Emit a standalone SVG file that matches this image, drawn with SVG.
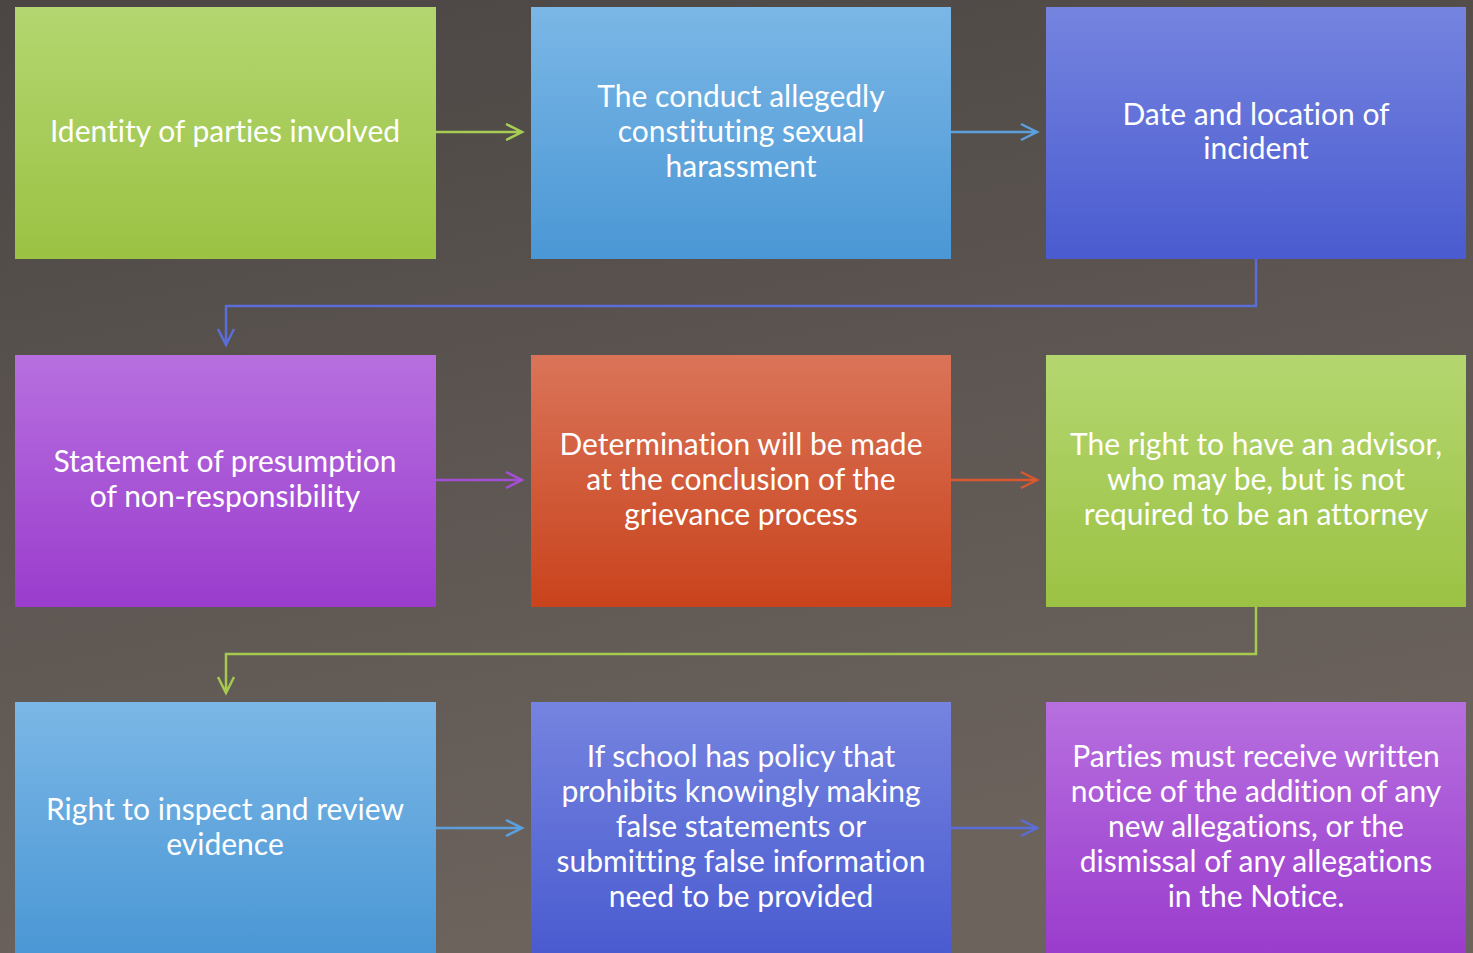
<svg xmlns="http://www.w3.org/2000/svg" width="1473" height="953" viewBox="0 0 1473 953">
<defs>
<linearGradient id="bg" x1="0" y1="0" x2="0.3" y2="1"><stop offset="0" stop-color="#4b4644"/><stop offset="1" stop-color="#6c635d"/></linearGradient>
<linearGradient id="gGreen" x1="0" y1="0" x2="0" y2="1"><stop offset="0" stop-color="#b4d670"/><stop offset="1" stop-color="#9bc243"/></linearGradient>
<linearGradient id="gBlue" x1="0" y1="0" x2="0" y2="1"><stop offset="0" stop-color="#7bb7e6"/><stop offset="1" stop-color="#4a97d5"/></linearGradient>
<linearGradient id="gIndigo" x1="0" y1="0" x2="0" y2="1"><stop offset="0" stop-color="#7584df"/><stop offset="1" stop-color="#4a5bd0"/></linearGradient>
<linearGradient id="gPurple" x1="0" y1="0" x2="0" y2="1"><stop offset="0" stop-color="#b76fdf"/><stop offset="1" stop-color="#9a3ccd"/></linearGradient>
<linearGradient id="gOrange" x1="0" y1="0" x2="0" y2="1"><stop offset="0" stop-color="#da7459"/><stop offset="1" stop-color="#c9431c"/></linearGradient>
<style>
.t{font-family:Lato,"Liberation Sans",sans-serif;font-size:30px;fill:#ffffff;text-anchor:middle;dominant-baseline:central;font-variant-ligatures:none}
.c{fill:none;stroke-width:2.5;stroke-linecap:butt;stroke-linejoin:miter}
</style>
</defs>
<rect width="1473" height="953" fill="url(#bg)"/>
<g id="connectors">
<path class="c" stroke="#a6cc55" d="M436 132H522M506 124L522 132L506 140"/>
<path class="c" stroke="#5ba0dc" d="M951 132H1037M1021 124L1037 132L1021 140"/>
<path class="c" stroke="#5b6ed8" d="M1256 259V306H226V345M218 329L226 345L234 329"/>
<path class="c" stroke="#a34fd3" d="M436 480H522M506 472L522 480L506 488"/>
<path class="c" stroke="#d9582f" d="M951 480H1037M1021 472L1037 480L1021 488"/>
<path class="c" stroke="#a6c94f" d="M1256 607V654H226V693M218 677L226 693L234 677"/>
<path class="c" stroke="#5ba0dc" d="M436 828H522M506 820L522 828L506 836"/>
<path class="c" stroke="#5b6ed8" d="M951 828H1037M1021 820L1037 828L1021 836"/>
</g>
<g id="n1"><rect x="15" y="7" width="421" height="252" fill="url(#gGreen)"/><text class="t" x="225" y="130">Identity of parties involved</text></g>
<g id="n2"><rect x="531" y="7" width="420" height="252" fill="url(#gBlue)"/><text class="t" x="741" y="95">The conduct allegedly</text><text class="t" x="741" y="130">constituting sexual</text><text class="t" x="741" y="165">harassment</text></g>
<g id="n3"><rect x="1046" y="7" width="420" height="252" fill="url(#gIndigo)"/><text class="t" x="1256" y="113">Date and location of</text><text class="t" x="1256" y="147">incident</text></g>
<g id="n4"><rect x="15" y="355" width="421" height="252" fill="url(#gPurple)"/><text class="t" x="225" y="460">Statement of presumption</text><text class="t" x="225" y="495">of non-responsibility</text></g>
<g id="n5"><rect x="531" y="355" width="420" height="252" fill="url(#gOrange)"/><text class="t" x="741" y="443">Determination will be made</text><text class="t" x="741" y="478">at the conclusion of the</text><text class="t" x="741" y="513">grievance process</text></g>
<g id="n6"><rect x="1046" y="355" width="420" height="252" fill="url(#gGreen)"/><text class="t" x="1256" y="443">The right to have an advisor,</text><text class="t" x="1256" y="478">who may be, but is not</text><text class="t" x="1256" y="513">required to be an attorney</text></g>
<g id="n7"><rect x="15" y="702" width="421" height="252" fill="url(#gBlue)"/><text class="t" x="225" y="808">Right to inspect and review</text><text class="t" x="225" y="843">evidence</text></g>
<g id="n8"><rect x="531" y="702" width="420" height="252" fill="url(#gIndigo)"/><text class="t" x="741" y="755">If school has policy that</text><text class="t" x="741" y="790">prohibits knowingly making</text><text class="t" x="741" y="825">false statements or</text><text class="t" x="741" y="860">submitting false information</text><text class="t" x="741" y="895">need to be provided</text></g>
<g id="n9"><rect x="1046" y="702" width="420" height="252" fill="url(#gPurple)"/><text class="t" x="1256" y="755">Parties must receive written</text><text class="t" x="1256" y="790">notice of the addition of any</text><text class="t" x="1256" y="825">new allegations, or the</text><text class="t" x="1256" y="860">dismissal of any allegations</text><text class="t" x="1256" y="895">in the Notice.</text></g>
</svg>
